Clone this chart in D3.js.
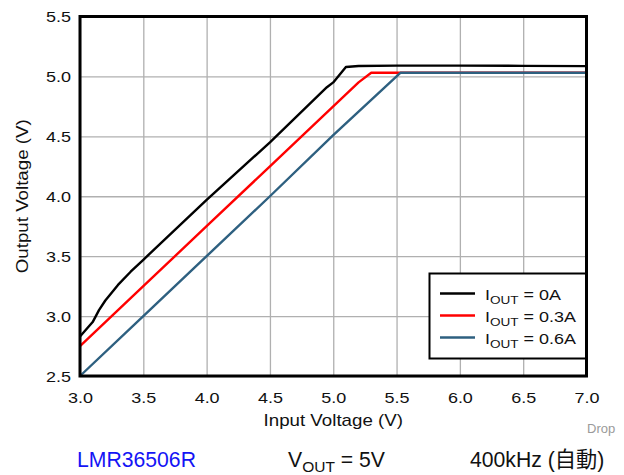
<!DOCTYPE html>
<html>
<head>
<meta charset="utf-8">
<script src="https://cdn.jsdelivr.net/npm/d3@7"></script>
<style>
  html, body { margin: 0; padding: 0; background: #fff; }
  svg { display: block; font-family: "Liberation Sans", Arial, "Noto Sans CJK JP", sans-serif; }
</style>
</head>
<body>
<svg id="chart" width="624" height="475"></svg>
<script>
// Output voltage vs input voltage (dropout), three load currents
const seriesNames = ["0A", "0.3A", "0.6A"];
const seriesColors = ["#000000", "#ff0000", "#2e6080"];

const vin0A  = [3.0, 3.05, 3.1, 3.15, 3.2, 3.3, 3.4, 3.5, 4.0, 4.5, 4.95, 5.0, 5.1, 5.2, 5.5, 6.0, 6.5, 7.0];
const vout0A = [2.83, 2.89, 2.95, 3.05, 3.13, 3.26, 3.37, 3.47, 3.97, 4.45, 4.91, 4.95, 5.078, 5.087, 5.09, 5.09, 5.088, 5.086];

const vin03A  = [3.0, 3.5, 4.0, 4.5, 5.0, 5.2, 5.3, 5.5, 6.0, 6.5, 7.0];
const vout03A = [2.75, 3.25, 3.75, 4.25, 4.75, 4.95, 5.03, 5.03, 5.03, 5.03, 5.03];

const vin06A  = [3.0, 3.5, 4.0, 4.5, 5.0, 5.5, 5.53, 6.0, 6.5, 7.0];
const vout06A = [2.5, 3.0, 3.5, 4.0, 4.51, 5.0, 5.03, 5.03, 5.03, 5.03];

const xTicks = [3.0, 3.5, 4.0, 4.5, 5.0, 5.5, 6.0, 6.5, 7.0];
const yTicks = [2.5, 3.0, 3.5, 4.0, 4.5, 5.0, 5.5];

const series = [
  { name: seriesNames[0], color: seriesColors[0], vin: vin0A,  vout: vout0A  },
  { name: seriesNames[1], color: seriesColors[1], vin: vin03A, vout: vout03A },
  { name: seriesNames[2], color: seriesColors[2], vin: vin06A, vout: vout06A }
];

const svg = d3.select("#chart");
const plotL = 80, plotR = 586.5, plotT = 16.5, plotB = 376;
const stretch = 1.2; // chart lettering is wider than the stock face

const x = d3.scaleLinear().domain([3, 7]).range([plotL, plotR]);
const y = d3.scaleLinear().domain([2.5, 5.5]).range([plotB, plotT]);

// grid
const gridX = svg.append("g")
  .attr("transform", `translate(0,${plotB})`)
  .call(d3.axisBottom(x).tickValues(xTicks).tickSize(-(plotB - plotT)).tickFormat(""));
const gridY = svg.append("g")
  .attr("transform", `translate(${plotL},0)`)
  .call(d3.axisLeft(y).tickValues(yTicks).tickSize(-(plotR - plotL)).tickFormat(""));
[gridX, gridY].forEach(g => {
  g.select(".domain").remove();
  g.selectAll("line").attr("stroke", "#b0b0b0").attr("stroke-width", 1.3);
});

// tick labels
const xAxis = svg.append("g")
  .attr("transform", `translate(0,${plotB})`)
  .call(d3.axisBottom(x).tickValues(xTicks).tickSize(0).tickPadding(0).tickFormat(d3.format(".1f")));
xAxis.select(".domain").remove();
xAxis.selectAll("text")
  .attr("y", 27).attr("dy", null)
  .attr("font-size", 15).attr("fill", "#111")
  .attr("transform", `scale(${stretch},1)`);

const yAxis = svg.append("g")
  .attr("transform", `translate(${plotL},0)`)
  .call(d3.axisLeft(y).tickValues(yTicks).tickSize(0).tickPadding(0).tickFormat(d3.format(".1f")));
yAxis.select(".domain").remove();
yAxis.selectAll("text")
  .attr("x", -9 / stretch).attr("dy", "0.36em")
  .attr("font-size", 15).attr("fill", "#111")
  .attr("transform", `scale(${stretch},1)`);
[xAxis, yAxis].forEach(g => g.attr("font-family", null).attr("font-size", null));

// axis titles
svg.append("text")
  .attr("transform", `translate(${(plotL + plotR) / 2},426) scale(1.17,1)`)
  .attr("text-anchor", "middle").attr("font-size", 16).attr("fill", "#111")
  .text("Input Voltage (V)");
svg.append("text")
  .attr("transform", `translate(28,${(plotT + plotB) / 2}) rotate(-90) scale(1.17,1)`)
  .attr("text-anchor", "middle").attr("font-size", 16).attr("fill", "#111")
  .text("Output Voltage (V)");

// curves
const line = d3.line().x(d => x(d[0])).y(d => y(d[1]));
const drawOrder = [1, 2, 0];
drawOrder.forEach(i => {
  const s = series[i];
  svg.append("path")
    .datum(s.vin.map((v, k) => [v, s.vout[k]]))
    .attr("d", line)
    .attr("fill", "none")
    .attr("stroke", s.color)
    .attr("stroke-width", 2.4)
    .attr("stroke-linejoin", "round");
});

// legend
const lg = svg.append("g");
lg.append("rect")
  .attr("x", 429.5).attr("y", 273.5).attr("width", plotR - 429.5).attr("height", 85)
  .attr("fill", "#fff").attr("stroke", "#000").attr("stroke-width", 2);
series.forEach((s, i) => {
  const ly = 293.5 + i * 22;
  lg.append("line")
    .attr("x1", 440).attr("x2", 475).attr("y1", ly).attr("y2", ly)
    .attr("stroke", s.color).attr("stroke-width", 2.6);
  const t = lg.append("text")
    .attr("transform", `translate(485,${ly + 6}) scale(1.18,1)`)
    .attr("font-size", 15.2).attr("fill", "#111");
  t.append("tspan").text("I");
  t.append("tspan").attr("font-size", 11.5).attr("dy", 4).text("OUT");
  t.append("tspan").attr("dy", -4).text(` = ${s.name}`);
});

// plot frame
svg.append("rect")
  .attr("x", plotL).attr("y", plotT).attr("width", plotR - plotL).attr("height", plotB - plotT)
  .attr("fill", "none").attr("stroke", "#000").attr("stroke-width", 3);

// footer
svg.append("text")
  .attr("x", 587).attr("y", 433).attr("font-size", 13).attr("fill", "#9a9a9a")
  .text("Drop");
svg.append("text")
  .attr("x", 77).attr("y", 467).attr("font-size", 21.2).attr("fill", "#1414f5")
  .text("LMR36506R");
const vo = svg.append("text")
  .attr("x", 288).attr("y", 467).attr("font-size", 21.2).attr("fill", "#111");
vo.append("tspan").text("V");
vo.append("tspan").attr("font-size", 15.5).attr("dy", 5).text("OUT");
vo.append("tspan").attr("dy", -5).text(" = 5V");
svg.append("text")
  .attr("x", 470).attr("y", 467).attr("font-size", 21.2).attr("fill", "#111")
  .text("400kHz (自動)");
</script>
</body>
</html>
